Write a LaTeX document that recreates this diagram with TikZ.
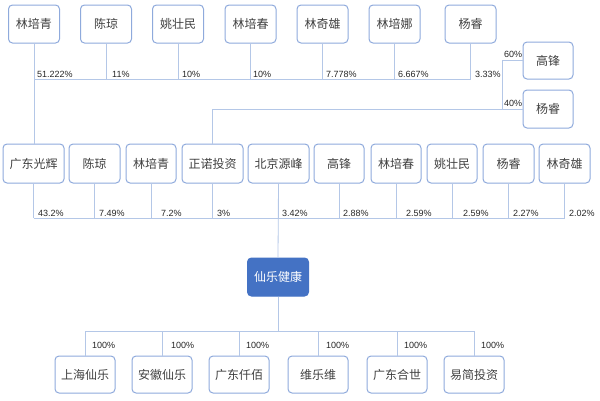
\documentclass[tikz,border=0pt]{standalone}
\usepackage{fontspec}
\setmainfont{Liberation Sans}
\newfontfamily\cjk{Noto Sans CJK SC}
\definecolor{boxline}{HTML}{8FAADC}
\definecolor{conn}{HTML}{B4C7E7}
\definecolor{boxtext}{HTML}{404040}
\definecolor{mainfill}{HTML}{4472C4}
\tikzset{
  ent/.style={draw=boxline, line width=1pt, rounded corners=4pt, fill=white,
    minimum height=38pt, inner sep=0pt, font=\cjk\fontsize{12}{12}\selectfont, text=boxtext},
  mainent/.style={ent, fill=mainfill, draw=mainfill, text=white},
  link/.style={draw=conn, line width=0.8pt},
  pct/.style={font=\fontsize{9}{9}\selectfont, text=black!85, inner sep=0pt, anchor=south west}
}
\begin{document}
\begin{tikzpicture}[x=1pt,y=-1pt]
\useasboundingbox (0,0) rectangle (600,400);
% top row
\node[ent, minimum width=51pt] (t1) at (34,24) {林培青};
\node[ent, minimum width=51pt] (t2) at (106,24) {陈琼};
\node[ent, minimum width=51pt] (t3) at (178,24) {姚壮民};
\node[ent, minimum width=51pt] (t4) at (250.5,24) {林培春};
\node[ent, minimum width=51pt] (t5) at (322.5,24) {林奇雄};
\node[ent, minimum width=51pt] (t6) at (394.5,24) {林培娜};
\node[ent, minimum width=51pt] (t7) at (470.5,24) {杨睿};
\node[ent, minimum width=50pt, minimum height=37pt] (gf1) at (548,60.5) {高锋};
\node[ent, minimum width=50pt] (yr2) at (548,109) {杨睿};
% middle row
\node[ent, minimum width=61pt, minimum height=39pt] (m1) at (33.5,163.5) {广东光辉};
\node[ent, minimum width=51pt, minimum height=39pt] (m2) at (94.5,163.5) {陈琼};
\node[ent, minimum width=50pt, minimum height=39pt] (m3) at (151,163.5) {林培青};
\node[ent, minimum width=61pt, minimum height=39pt] (m4) at (212.5,163.5) {正诺投资};
\node[ent, minimum width=61pt, minimum height=39pt] (m5) at (278.5,163.5) {北京源峰};
\node[ent, minimum width=50pt, minimum height=39pt] (m6) at (339,163.5) {高锋};
\node[ent, minimum width=50pt, minimum height=39pt] (m7) at (396,163.5) {林培春};
\node[ent, minimum width=50pt, minimum height=39pt] (m8) at (452,163.5) {姚壮民};
\node[ent, minimum width=51pt, minimum height=39pt] (m9) at (508.5,163.5) {杨睿};
\node[ent, minimum width=51pt, minimum height=39pt] (m10) at (564.5,163.5) {林奇雄};
% main
\node[mainent, minimum width=61pt] (xl) at (278,277) {仙乐健康};
% bottom row
\node[ent, minimum width=60pt, minimum height=37pt] (b1) at (85,374.5) {上海仙乐};
\node[ent, minimum width=60pt, minimum height=37pt] (b2) at (162,374.5) {安徽仙乐};
\node[ent, minimum width=60pt, minimum height=37pt] (b3) at (239,374.5) {广东仟佰};
\node[ent, minimum width=60pt, minimum height=37pt] (b4) at (318,374.5) {维乐维};
\node[ent, minimum width=60pt, minimum height=37pt] (b5) at (397,374.5) {广东合世};
\node[ent, minimum width=60pt, minimum height=37pt] (b6) at (474,374.5) {易简投资};
% bus coordinates
\coordinate (busA) at (0,79);
\coordinate (busB) at (0,218);
\coordinate (busC) at (0,331);
\coordinate (fork) at (502,0);
\coordinate (busY) at (0,109);
% top connectors
\foreach \n in {t2,t3,t4,t5,t6,t7} \draw[link] (\n.south) -- (\n.south |- busA);
\draw[link] (t1.south |- busA) -- (t7.south |- busA);
\draw[link] (t1.south) -- (t1.south |- m1.north);
\draw[link] (gf1.west) -- (fork |- gf1.west) -- (fork |- yr2.west) -- (yr2.west);
\draw[link] (fork |- yr2.west) -- (m4.north |- yr2.west) -- (m4.north);
% middle connectors
\foreach \n in {m1,m2,m3,m4,m5,m6,m7,m8,m9,m10} \draw[link] (\n.south) -- (\n.south |- busB);
\draw[link] (m1.south |- busB) -- (m10.south |- busB);
\draw[link] (m5.south) -- (xl.north);
% bottom connectors
\draw[link] (xl.south) -- (xl.south |- busC);
\draw[link] (b1.north |- busC) -- (b6.north |- busC);
\foreach \n in {b1,b2,b3,b4,b5,b6} \draw[link] (\n.north |- busC) -- (\n.north);
% top labels
\node[pct] (p1) at (37,78) {51.222\%};
\node[pct] (p2) at (112,78) {11\%};
\node[pct] (p3) at (182,78) {10\%};
\node[pct] (p4) at (253,78) {10\%};
\node[pct] (p5) at (326,78) {7.778\%};
\node[pct] (p6) at (398,78) {6.667\%};
\node[pct] (p7) at (475,78) {3.33\%};
\node[pct] (p8) at (504,58) {60\%};
\node[pct] (p9) at (504,107) {40\%};
% middle labels
\node[pct] (q1) at (38,217) {43.2\%};
\node[pct] (q2) at (99,217) {7.49\%};
\node[pct] (q3) at (161,217) {7.2\%};
\node[pct] (q4) at (217,217) {3\%};
\node[pct] (q5) at (282,217) {3.42\%};
\node[pct] (q6) at (343,217) {2.88\%};
\node[pct] (q7) at (406,217) {2.59\%};
\node[pct] (q8) at (463,217) {2.59\%};
\node[pct] (q9) at (513,217) {2.27\%};
\node[pct] (q10) at (569,217) {2.02\%};
% bottom labels
\node[pct] (r1) at (92,349) {100\%};
\node[pct] (r2) at (171,349) {100\%};
\node[pct] (r3) at (246,349) {100\%};
\node[pct] (r4) at (326,349) {100\%};
\node[pct] (r5) at (404,349) {100\%};
\node[pct] (r6) at (481,349) {100\%};
\end{tikzpicture}
\end{document}
